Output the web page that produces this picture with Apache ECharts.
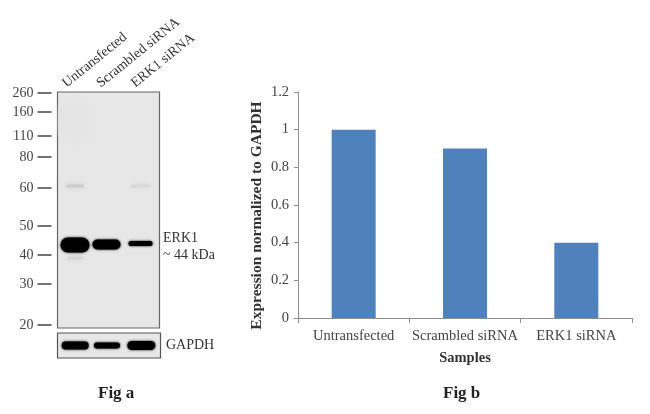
<!DOCTYPE html>
<html><head><meta charset="utf-8">
<style>html,body{margin:0;padding:0;background:#fff}#c{width:650px;height:414px}</style>
<script src="https://cdn.jsdelivr.net/npm/echarts@6/dist/echarts.min.js"></script>
</head><body><div id="c"></div>
<script>
const samples = ['Untransfected', 'Scrambled siRNA', 'ERK1 siRNA'];
const expression = [1, 0.9, 0.4];
const markerLabels = ['260', '160', '110', '80', '60', '50', '40', '30', '20'];
const markerMigration = [1, 20, 44, 65, 96, 134, 163, 192, 233];
// [lane, migration, signal]
const erk1Bands = [[0, 153, 1], [1, 152.5, 0.8], [2, 151.5, 0.45]];
const faintBands = [[0, 94, 0.12], [2, 94, 0.07], [0, 166, 0.08], [0, 30, 0.012]];
const gapdhBands = [[0, 0.5, 1], [1, 0.5, 0.8], [2, 0.5, 1]];

const serif = '"Liberation Serif", serif';
const laneShift = [0.5, -2, -2];
function bandRenderer(widths, thick) {
  return function (params, api) {
    const i = params.dataIndex, lane = api.value(0), signal = api.value(2);
    const c = api.coord([lane, api.value(1)]);
    const w = widths[i], h = thick[i];
    const v = Math.round(232 - 232 * Math.min(1, signal * (signal < 0.3 ? 1 : 9)));
    const col = 'rgb(' + v + ',' + v + ',' + v + ')';
    return {
      type: 'rect',
      shape: { x: c[0] + laneShift[lane] - w / 2, y: c[1] - h / 2, width: w, height: h, r: h / 2 },
      style: { fill: col, shadowBlur: signal < 0.3 ? 5 : 2.5, shadowColor: col }
    };
  };
}
const option = {
  backgroundColor: '#fff',
  animation: false,
  grid: [
    { left: 298, top: 92, width: 334, height: 226 },
    { left: 57.5, top: 92, width: 102, height: 236, show: true, backgroundColor: '#e7e7e7', borderColor: '#666', borderWidth: 1.2 },
    { left: 57.5, top: 333, width: 103, height: 25, show: true, backgroundColor: '#e7e7e7', borderColor: '#555', borderWidth: 1.2 },
    { left: 47, top: 88, width: 103, height: 236 }
  ],
  xAxis: [
    { gridIndex: 0, type: 'category', data: samples,
      axisLine: { lineStyle: { color: '#8c8c8c' } },
      axisTick: { show: true, length: 5, interval: 0, lineStyle: { color: '#8c8c8c' } },
      axisLabel: { interval: 0, fontFamily: serif, fontSize: 14.5, color: '#444', margin: 11 },
      name: 'Samples', nameLocation: 'middle', nameGap: 33, nameMoveOverlap: false,
      nameTextStyle: { fontFamily: serif, fontSize: 14.5, fontWeight: 'bold', color: '#333' } },
    { gridIndex: 1, type: 'category', data: samples, axisLine: { show: false }, axisTick: { show: false }, axisLabel: { show: false } },
    { gridIndex: 2, type: 'category', data: samples, axisLine: { show: false }, axisTick: { show: false }, axisLabel: { show: false } },
    { gridIndex: 3, type: 'category', data: samples, position: 'top',
      axisLine: { show: false }, axisTick: { show: false },
      axisLabel: { interval: 0, rotate: 39, fontFamily: serif, fontSize: 14, color: '#333', margin: 3, align: 'left', verticalAlign: 'middle' } }
  ],
  yAxis: [
    { gridIndex: 0, type: 'value', min: 0, max: 1.2, interval: 0.2,
      splitLine: { show: false },
      axisLine: { show: true, lineStyle: { color: '#8c8c8c' } },
      axisTick: { show: true, length: 4, lineStyle: { color: '#8c8c8c' } },
      axisLabel: { fontFamily: serif, fontSize: 14.5, color: '#444', margin: 9,
        formatter: v => String(Math.round(v * 10) / 10) },
      name: 'Expression normalized to GAPDH', nameLocation: 'middle', nameGap: 33, nameMoveOverlap: false,
      nameTextStyle: { fontFamily: serif, fontSize: 15.5, fontWeight: 'bold', color: '#333', padding: [0, 21, 0, 0] } },
    { gridIndex: 1, type: 'value', min: 0, max: 236, inverse: true, offset: 6,
      splitLine: { show: false },
      axisLine: { show: false },
      axisTick: { show: true, length: 14, customValues: markerMigration, lineStyle: { color: '#444', width: 1.5 } },
      axisLabel: { customValues: markerMigration, fontFamily: serif, fontSize: 14, color: '#444', margin: 18,
        formatter: v => markerLabels[markerMigration.indexOf(v)] } },
    { gridIndex: 2, type: 'value', min: 0, max: 1, show: false },
    { gridIndex: 3, type: 'value', min: 0, max: 1, show: false }
  ],
  series: [
    { type: 'bar', xAxisIndex: 0, yAxisIndex: 0, data: expression, barWidth: 44, itemStyle: { color: '#4f81bd' } },
    { type: 'custom', xAxisIndex: 1, yAxisIndex: 1, data: faintBands, encode: { x: 0, y: 1 }, clip: true,
      renderItem: bandRenderer([18, 20, 15, 32], [3, 3, 3, 45]) },
    { type: 'custom', xAxisIndex: 1, yAxisIndex: 1, data: erk1Bands, encode: { x: 0, y: 1 }, clip: true,
      renderItem: bandRenderer([29, 28, 24], [15, 10, 5]) },
    { type: 'custom', xAxisIndex: 2, yAxisIndex: 2, data: gapdhBands, encode: { x: 0, y: 1 }, clip: true,
      renderItem: bandRenderer([27, 26, 28], [8, 6, 9]) }
  ],
  graphic: [
    { type: 'text', left: 163, top: 231, style: { text: 'ERK1', font: '14px ' + serif, fill: '#333' } },
    { type: 'text', left: 163, top: 248, style: { text: '~ 44 kDa', font: '14px ' + serif, fill: '#333' } },
    { type: 'text', left: 166, top: 338, style: { text: 'GAPDH', font: '14px ' + serif, fill: '#333' } },
    { type: 'text', left: 98, top: 385, style: { text: 'Fig a', font: 'bold 17px ' + serif, fill: '#222' } },
    { type: 'text', left: 443, top: 385, style: { text: 'Fig b', font: 'bold 17px ' + serif, fill: '#222' } }
  ]
};
echarts.init(document.getElementById('c')).setOption(option);
</script></body></html>
